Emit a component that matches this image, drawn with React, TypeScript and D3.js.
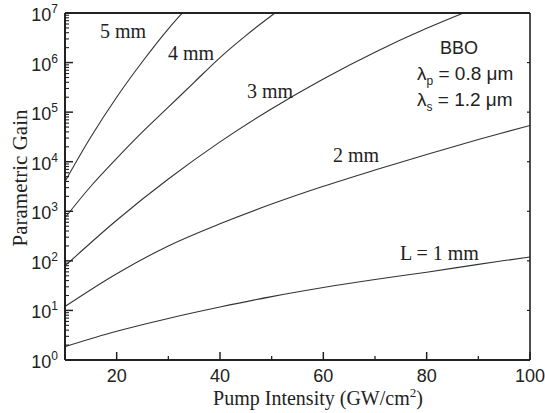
import React from "react";
import * as d3 from "d3";

const W = 545;
const H = 413;
const M = { left: 65, right: 15, top: 13, bottom: 53 };

// Pump intensity (GW/cm^2) and parametric gain per crystal length
const x1mm = [10, 20, 30, 40, 50, 60, 70, 80, 90, 100];
const g1mm = [1.86, 3.8, 6.9, 11.7, 19, 29, 42, 59, 85, 120];
const x2mm = [10, 20, 30, 40, 50, 60, 70, 80, 90, 100];
const g2mm = [12, 55, 200, 560, 1400, 3200, 6800, 14000, 28000, 54000];
const x3mm = [10, 20, 30, 40, 50, 60, 70, 80, 90];
const g3mm = [79, 660, 4470, 25100, 117500, 468000, 1620000, 4900000, 13200000];
const x4mm = [10, 15, 20, 25, 30, 35, 40, 45, 50, 53];
const g4mm = [740, 3200, 11700, 40000, 126000, 400000, 1260000, 3500000, 8900000, 15000000];
const x5mm = [10, 15, 20, 25, 30, 34];
const g5mm = [4000, 31600, 200000, 1050000, 4800000, 14000000];

const curveLabels = ["5 mm", "4 mm", "3 mm", "2 mm", "L = 1 mm"];

const xMajorTicks = [20, 40, 60, 80, 100];
const xMinorTicks = [30, 50, 70, 90];
const yDecades = [0, 1, 2, 3, 4, 5, 6, 7];

export default function App() {
  const iw = W - M.left - M.right;
  const ih = H - M.top - M.bottom;
  const x = d3.scaleLinear().domain([10, 100]).range([M.left, M.left + iw]);
  const y = d3.scaleLog().domain([1, 1e7]).range([M.top + ih, M.top]);

  const line = d3
    .line<[number, number]>()
    .x((d) => x(d[0]))
    .y((d) => y(d[1]))
    .curve(d3.curveCatmullRom.alpha(0.5));

  const series: [number[], number[]][] = [
    [x1mm, g1mm],
    [x2mm, g2mm],
    [x3mm, g3mm],
    [x4mm, g4mm],
    [x5mm, g5mm],
  ];

  const minorY: number[] = [];
  for (let e = 0; e < 7; e++) {
    for (let k = 2; k <= 9; k++) minorY.push(k * Math.pow(10, e));
  }

  const serif = "'Liberation Serif', 'Times New Roman', serif";
  const sans = "'Liberation Sans', Arial, sans-serif";
  const ink = "#222";

  const x0 = M.left;
  const x1 = M.left + iw;
  const y0 = M.top + ih;
  const y1 = M.top;

  return (
    <svg
      width={W}
      height={H}
      style={{ position: "absolute", left: 0, top: 0, background: "#fff" }}
    >
      <defs>
        <clipPath id="plotclip">
          <rect x={x0} y={y1} width={iw} height={ih} />
        </clipPath>
      </defs>

      <g clipPath="url(#plotclip)">
        {series.map(([xs, gs], i) => (
          <path
            key={i}
            d={line(xs.map((v, j) => [v, gs[j]] as [number, number])) || ""}
            fill="none"
            stroke="#333"
            strokeWidth={1.1}
          />
        ))}
      </g>

      {/* frame */}
      <line x1={x0} y1={y1} x2={x1} y2={y1} stroke={ink} strokeWidth={2.2} />
      <line x1={x0} y1={y1} x2={x0} y2={y0} stroke={ink} strokeWidth={2} />
      <line x1={x0} y1={y0} x2={x1} y2={y0} stroke={ink} strokeWidth={2} />
      <line x1={x1} y1={y1} x2={x1} y2={y0} stroke={ink} strokeWidth={1.6} />

      {/* y ticks */}
      {yDecades.map((e) => (
        <line key={"ym" + e} x1={x0} x2={x0 + 8} y1={y(Math.pow(10, e))} y2={y(Math.pow(10, e))} stroke={ink} strokeWidth={1.5} />
      ))}
      {yDecades.map((e) => (
        <line key={"yr" + e} x1={x1} x2={x1 - 3} y1={y(Math.pow(10, e))} y2={y(Math.pow(10, e))} stroke={ink} strokeWidth={1.2} />
      ))}
      {minorY.map((v, i) => (
        <line key={"yn" + i} x1={x0} x2={x0 + 4} y1={y(v)} y2={y(v)} stroke={ink} strokeWidth={1.1} />
      ))}

      {/* x ticks */}
      {xMajorTicks.map((v) => (
        <line key={"xm" + v} x1={x(v)} x2={x(v)} y1={y0} y2={y0 - 8} stroke={ink} strokeWidth={1.5} />
      ))}
      {xMinorTicks.map((v) => (
        <line key={"xn" + v} x1={x(v)} x2={x(v)} y1={y0} y2={y0 - 4} stroke={ink} strokeWidth={1.3} />
      ))}

      {/* tick labels */}
      {xMajorTicks.map((v) => (
        <text key={"xl" + v} x={x(v)} y={y0 + 22} textAnchor="middle" fontFamily={sans} fontSize={18} fill={ink}>
          {v}
        </text>
      ))}
      {yDecades.map((e) => (
        <text key={"yl" + e} x={58} y={y(Math.pow(10, e)) + 8} textAnchor="end" fontFamily={sans} fontSize={18} fill={ink}>
          10
          <tspan dx={0} dy={-8} fontSize={12}>
            {e}
          </tspan>
        </text>
      ))}

      {/* axis titles */}
      <text x={318} y={405} textAnchor="middle" fontFamily={serif} fontSize={20} fill={ink}>
        Pump Intensity (GW/cm
        <tspan dy={-8} fontSize={13}>2</tspan>
        <tspan dy={8}>)</tspan>
      </text>
      <text
        transform={`translate(27, 178) rotate(-90)`}
        textAnchor="middle"
        fontFamily={serif}
        fontSize={21}
        fill={ink}
      >
        Parametric Gain
      </text>

      {/* curve labels */}
      <text x={100} y={38} fontFamily={serif} fontSize={20} fill={ink}>{curveLabels[0]}</text>
      <text x={168} y={60} fontFamily={serif} fontSize={20} fill={ink}>{curveLabels[1]}</text>
      <text x={247} y={98} fontFamily={serif} fontSize={20} fill={ink}>{curveLabels[2]}</text>
      <text x={333} y={162} fontFamily={serif} fontSize={20} fill={ink}>{curveLabels[3]}</text>
      <text x={400} y={260} fontFamily={serif} fontSize={20} fill={ink}>{curveLabels[4]}</text>

      {/* annotation */}
      <text x={459} y={54} textAnchor="middle" fontFamily={sans} fontSize={18} fill={ink}>BBO</text>
      <text x={417} y={80} fontFamily={sans} fontSize={19} fill={ink}>
        λ<tspan dy={5} fontSize={12}>p</tspan>
        <tspan dy={-5}> = 0.8 μm</tspan>
      </text>
      <text x={417} y={106} fontFamily={sans} fontSize={19} fill={ink}>
        λ<tspan dy={5} fontSize={12}>s</tspan>
        <tspan dy={-5}> = 1.2 μm</tspan>
      </text>
    </svg>
  );
}
